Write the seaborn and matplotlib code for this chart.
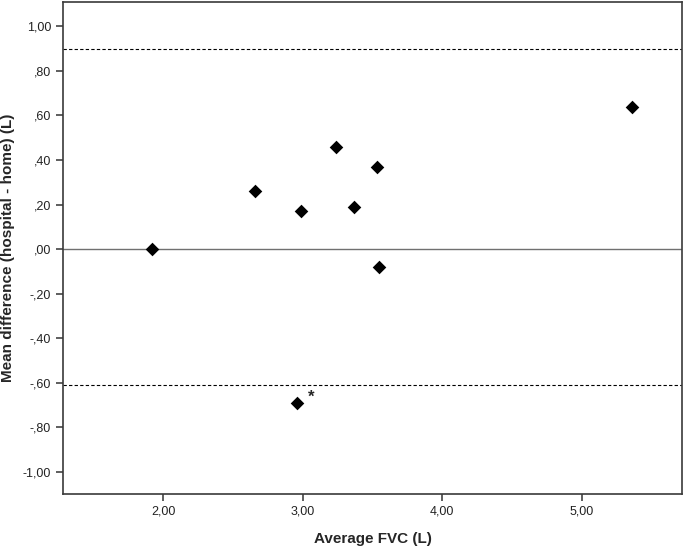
import numpy as np
import pandas as pd
import matplotlib
matplotlib.use("Agg")
import matplotlib.pyplot as plt
from matplotlib.ticker import FuncFormatter
import seaborn as sns

# Bland-Altman plot: hospital vs home FVC

avg_fvc = [1.92, 2.66, 2.99, 3.24, 3.37, 3.53, 3.55, 2.96, 5.36]
mean_diff = [0.00, 0.26, 0.17, 0.46, 0.19, 0.37, -0.08, -0.69, 0.64]
upper_loa = 0.90
lower_loa = -0.61
x_ticks = [2.0, 3.0, 4.0, 5.0]
y_ticks = [1.0, 0.8, 0.6, 0.4, 0.2, 0.0, -0.2, -0.4, -0.6, -0.8, -1.0]
outlier_note = "*"

df = pd.DataFrame({"avg": avg_fvc, "diff": mean_diff})

sns.set_style("white")
plt.rcParams["font.family"] = ["Liberation Sans", "DejaVu Sans"]


def spss_fmt(v, pos):
    s = f"{v:.2f}".replace(".", ",")
    if s.startswith("0,"):
        s = s[1:]
    elif s.startswith("-0,"):
        s = "-" + s[2:]
    if s in ("-,00",):
        s = ",00"
    return s


fig = plt.figure(figsize=(6.85, 5.48), dpi=100)
ax = fig.add_axes([0.092, 0.0985, 0.9036, 0.898])

ax.axhline(0, color="#707070", linewidth=1.0, zorder=1)
ax.axhline(upper_loa, color="black", linewidth=0.8, linestyle=(0, (3, 2)), zorder=1)
ax.axhline(lower_loa, color="black", linewidth=0.8, linestyle=(0, (3, 2)), zorder=1)

sns.scatterplot(data=df, x="avg", y="diff", marker="D", s=48, color="black",
                edgecolor="black", linewidth=0, ax=ax, zorder=3)

ax.text(3.04, -0.665, outlier_note, fontsize=12, fontweight="bold",
        ha="left", va="center")

ax.set_xlim(1.28, 5.72)
ax.set_ylim(-1.10, 1.11)
ax.set_xticks(x_ticks)
ax.set_yticks(y_ticks)
ax.xaxis.set_major_formatter(FuncFormatter(spss_fmt))
ax.yaxis.set_major_formatter(FuncFormatter(spss_fmt))
ax.tick_params(axis="both", direction="out", length=5, width=1.1,
               color="#333333", labelsize=9, labelcolor="#222222",
               left=True, bottom=True)

for sp in ax.spines.values():
    sp.set_color("#3a3a3a")
    sp.set_linewidth(1.2)

ax.set_xlabel("Average FVC (L)", fontsize=11, fontweight="bold", labelpad=10)
ax.set_ylabel("Mean difference (hospital - home) (L)", fontsize=11,
              fontweight="bold", labelpad=6)

fig.savefig("out.png", dpi=100, facecolor="white")
